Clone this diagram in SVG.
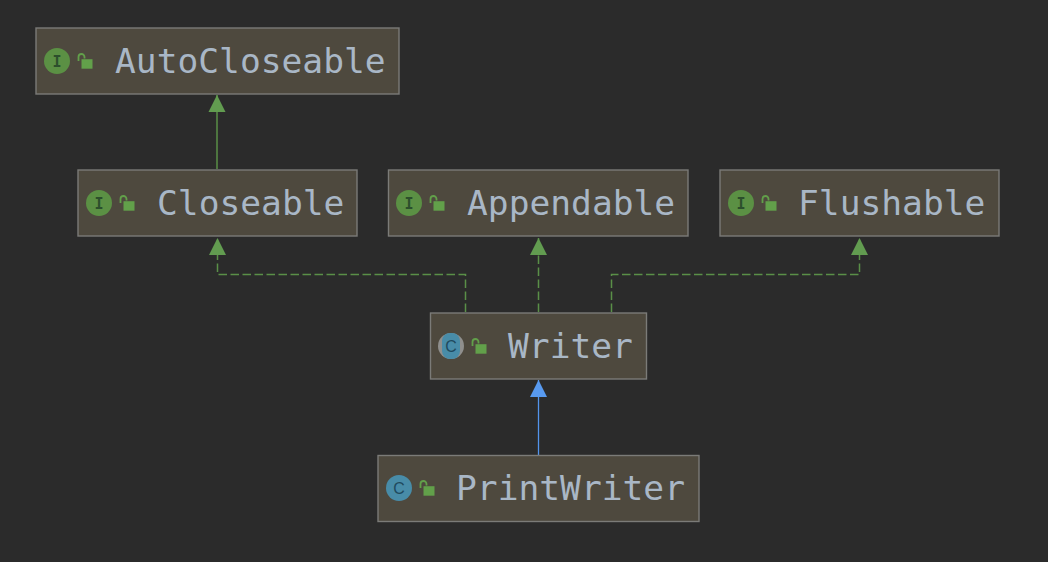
<svg xmlns="http://www.w3.org/2000/svg" width="1048" height="562" viewBox="0 0 1048 562">
<style>
.box{fill:#4e493e;stroke:#7b7b78;stroke-width:1.4}
.name{font-family:"DejaVu Sans Mono","Liberation Mono",monospace;font-size:34.6px;fill:#a9b7c6}
.ci{fill:#5b9044}
.cc{fill:#488ca8}
.ig{font-family:"DejaVu Sans Mono",monospace;font-size:15px;font-weight:bold;fill:#2c4f2c;text-anchor:middle}
.cg{font-family:"Liberation Sans",sans-serif;font-size:16px;fill:#1f4a5e;text-anchor:middle}
.lb{fill:#62a04a}
.ls{fill:none;stroke:#62a04a;stroke-width:1.8}
.g{fill:none;stroke:#5a8f47;stroke-width:1.5}
.d{stroke-dasharray:8.500 3.500}
.b{fill:none;stroke:#5394ec;stroke-width:1.3}
</style>
<defs>
<g id="lock"><path class="ls" d="M-6 -1V-5a3 3 0 0 1 6 0V-3.500"/><rect class="lb" x="-3" y="-2.800" width="11" height="9.500"/></g>
<marker id="ag" markerUnits="userSpaceOnUse" markerWidth="18" markerHeight="19" refX="17" refY="9" orient="auto"><path d="M0 0.500L17 9L0 17.500Z" fill="#629c50"/></marker>
<marker id="ab" markerUnits="userSpaceOnUse" markerWidth="18" markerHeight="19" refX="17" refY="9" orient="auto"><path d="M0 0.500L17 9L0 17.500Z" fill="#589af0"/></marker>
</defs>
<rect width="1048" height="562" fill="#2b2b2b"/>
<g id="connectors">
<path class="g" d="M217 169V95" marker-end="url(#ag)"/>
<path class="g d" d="M465.500 312V274.500H217.500V238" marker-end="url(#ag)"/>
<path class="g d" d="M538.500 312V238" marker-end="url(#ag)"/>
<path class="g d" d="M611.500 312V274.500H859.500V238" marker-end="url(#ag)"/>
<path class="b" d="M538.500 455V380" marker-end="url(#ab)"/>
</g>
<g id="AutoCloseable">
<rect class="box" x="36" y="28" width="363" height="66"/>
<circle class="ci" cx="57" cy="61" r="13"/><text class="ig" x="57" y="66.500">I</text>
<use href="#lock" x="84.500" y="62"/>
<text class="name" x="115" y="73">AutoCloseable</text>
</g>
<g id="Closeable">
<rect class="box" x="78" y="170" width="279" height="66"/>
<circle class="ci" cx="99" cy="203" r="13"/><text class="ig" x="99" y="208.500">I</text>
<use href="#lock" x="126.500" y="204"/>
<text class="name" x="157" y="215">Closeable</text>
</g>
<g id="Appendable">
<rect class="box" x="388.500" y="170" width="299.500" height="66"/>
<circle class="ci" cx="409" cy="203" r="13"/><text class="ig" x="409" y="208.500">I</text>
<use href="#lock" x="436.500" y="204"/>
<text class="name" x="467" y="215">Appendable</text>
</g>
<g id="Flushable">
<rect class="box" x="720" y="170" width="279" height="66"/>
<circle class="ci" cx="741" cy="203" r="13"/><text class="ig" x="741" y="208.500">I</text>
<use href="#lock" x="768.500" y="204"/>
<text class="name" x="798" y="215">Flushable</text>
</g>
<g id="Writer">
<rect class="box" x="430.500" y="313" width="216" height="66"/>
<circle cx="451" cy="346" r="13" fill="#8f8f8d"/>
<rect x="442" y="333" width="18" height="26" rx="8" fill="#488ca8"/>
<text class="cg" x="451" y="352">C</text>
<use href="#lock" x="478.500" y="347"/>
<text class="name" x="508" y="358">Writer</text>
</g>
<g id="PrintWriter">
<rect class="box" x="378" y="455.500" width="321" height="66"/>
<circle class="cc" cx="399" cy="488" r="13"/><text class="cg" x="399" y="494">C</text>
<use href="#lock" x="426.500" y="489"/>
<text class="name" x="456" y="500">PrintWriter</text>
</g>
</svg>
